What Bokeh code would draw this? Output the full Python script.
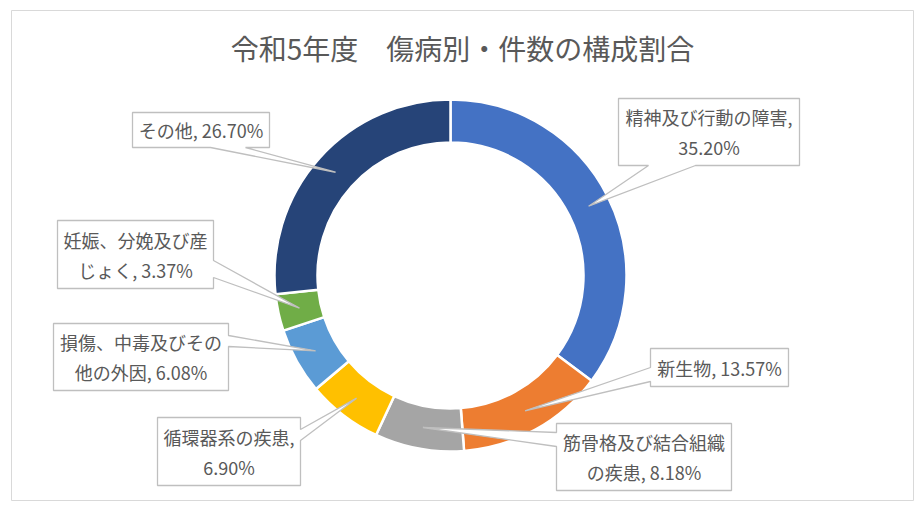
import math
from bokeh.plotting import figure
from bokeh.models import Range1d
from bokeh.core.properties import value
from bokeh.embed import file_html
from bokeh.resources import INLINE

# data (percent of cases)
title = "令和5年度　傷病別・件数の構成割合"
categories = ["精神及び行動の障害", "新生物", "筋骨格及び結合組織の疾患", "循環器系の疾患",
              "損傷、中毒及びその他の外因", "妊娠、分娩及び産じょく", "その他"]
shares = [35.20, 13.57, 8.18, 6.90, 6.08, 3.37, 26.70]
colors = ["#4472C4", "#ED7D31", "#A5A5A5", "#FFC000", "#5B9BD5", "#70AD47", "#264478"]

W, H = 918, 503
FONT = value("Noto Sans CJK JP")
GREY_TXT = "#595959"

# page pixel -> data coords
def px(x):
    return x

def py(y):
    return H - y

# callout boxes in page pixels: box (x0, y0, x1, y1), edge of pointer, pointer base a/b, line break
callouts = [
    ((618, 98, 799, 165), "bottom", 648, 695, 10),
    ((650, 348, 788, 386), "left", 367, 381, None),
    ((556, 423, 731, 490), "left", 432, 446, 9),
    ((157, 417, 300, 485), "right", 429, 440, 8),
    ((53, 323, 228, 390), "right", 335, 346, 9),
    ((57, 220, 213, 288), "right", 260, 277, 8),
    ((132, 112, 269, 147), "bottom", 210, 245, None),
]

cx, cy = 450, 275
r_out, r_in = 176, 133

p = figure(width=W, height=H, x_range=Range1d(0, W), y_range=Range1d(0, H),
           x_axis_type=None, y_axis_type=None, toolbar_location=None,
           output_backend="svg", min_border=0, outline_line_color=None)
p.grid.visible = False

# chart frame
p.quad(left=px(11), right=px(913), top=py(10), bottom=py(500),
       fill_color="white", line_color="#d9d9d9", line_width=1)

p.text(x=[px(462)], y=[py(47)], text=[title], text_align="center", text_baseline="middle",
       text_font=FONT, text_font_size="28px", text_color=GREY_TXT)

# donut
total = sum(shares)
starts, ends, mids = [], [], []
acc = 0.0
for s in shares:
    a0 = acc / total
    acc += s
    a1 = acc / total
    starts.append(math.pi / 2 - 2 * math.pi * a0)
    ends.append(math.pi / 2 - 2 * math.pi * a1)
    mids.append(2 * math.pi * (a0 + a1) / 2)

p.annular_wedge(x=px(cx), y=py(cy), inner_radius=r_in, outer_radius=r_out,
                start_angle=starts, end_angle=ends, direction="clock",
                fill_color=colors, line_color="white", line_width=2.5)

# callouts
r_mid = (r_in + r_out) / 2
xs, ys = [], []
tx, ty, tt = [], [], []
for (box, edge, a, b, brk), cat, s, m in zip(callouts, categories, shares, mids):
    x0, y0, x1, y1 = box
    tip = (cx + r_mid * math.sin(m), cy - r_mid * math.cos(m))
    pts = []
    corners = [(x0, y0), (x1, y0), (x1, y1), (x0, y1)]
    for i, c in enumerate(corners):
        pts.append(c)
        if i == 0 and edge == "top":
            pts += [(a, y0), tip, (b, y0)]
        if i == 1 and edge == "right":
            pts += [(x1, a), tip, (x1, b)]
        if i == 2 and edge == "bottom":
            pts += [(b, y1), tip, (a, y1)]
        if i == 3 and edge == "left":
            pts += [(x0, b), tip, (x0, a)]
    xs.append([px(q[0]) for q in pts])
    ys.append([py(q[1]) for q in pts])

    label = f"{cat}, {s:.2f}%"
    lines = [label] if brk is None else [label[:brk].strip(), label[brk:].strip()]
    mx = (x0 + x1) / 2
    my = (y0 + y1) / 2
    step = 30
    for k, ln in enumerate(lines):
        tx.append(px(mx))
        ty.append(py(my + (k - (len(lines) - 1) / 2) * step))
        tt.append(ln)

p.patches(xs=xs, ys=ys, fill_color="white", line_color="#bfbfbf", line_width=1.3)
p.text(x=tx, y=ty, text=tt, text_align="center", text_baseline="middle",
       text_font=FONT, text_font_size="18px", text_color=GREY_TXT)

open("out.html", "w").write(file_html(p, INLINE))
